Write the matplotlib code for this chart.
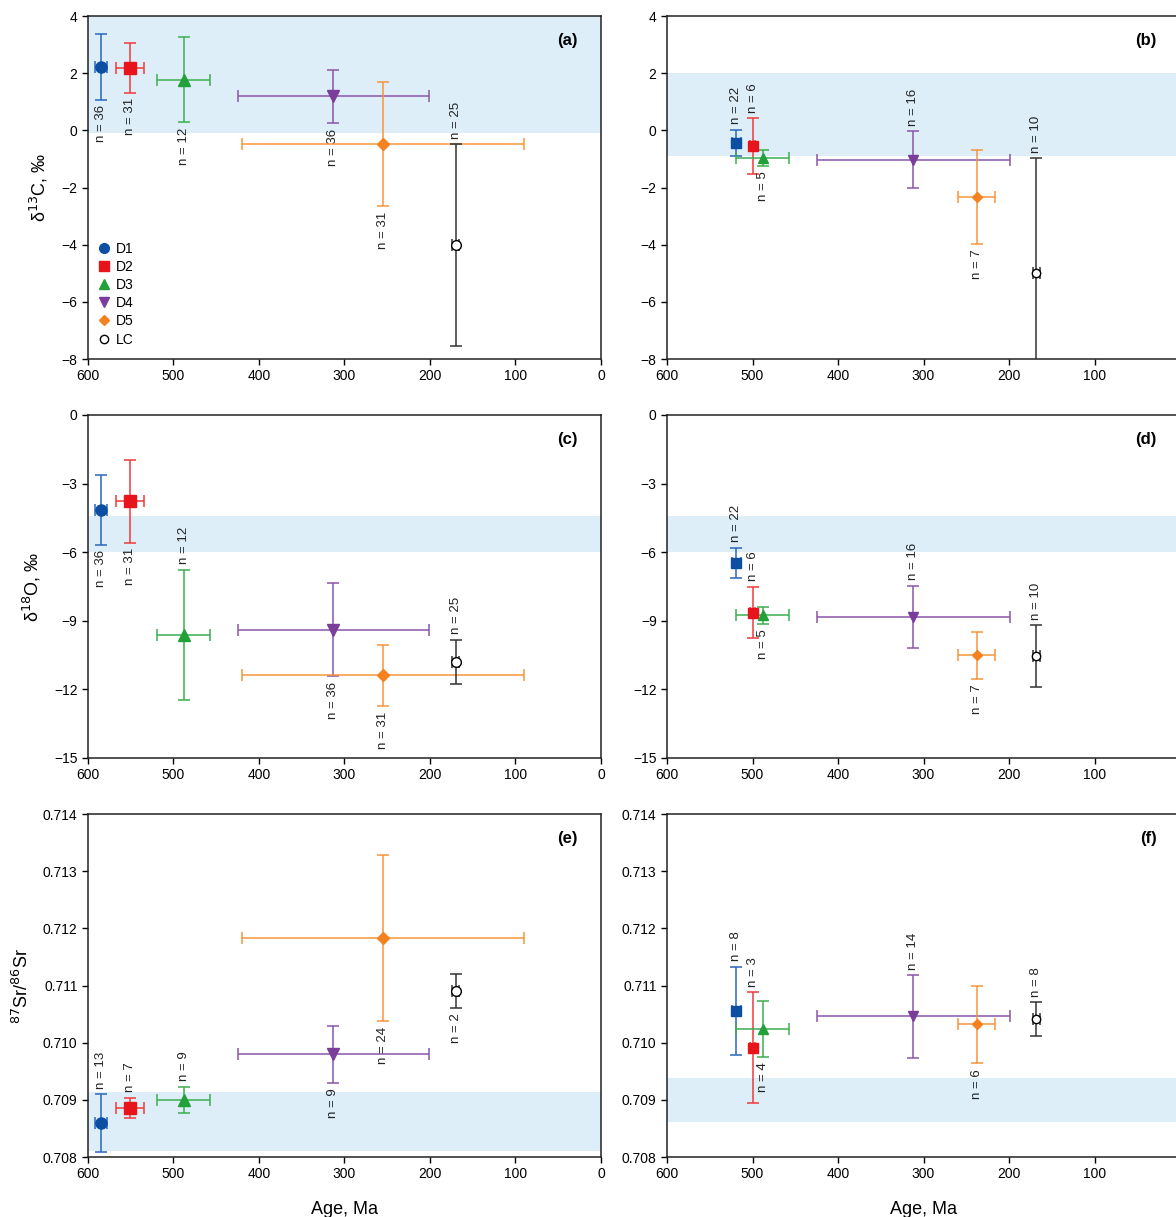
import matplotlib
matplotlib.use("Agg")
import matplotlib.pyplot as plt
from matplotlib.lines import Line2D

groups = ["D1", "D2", "D3", "D4", "D5", "LC"]

# ages (Ma) and age ranges, left column / right column
age_left = [585, 551, 488, 313, 255, 170]
age_left_err = [7, 16, 31, 112, 165, 4]
age_right = [519, 500, 488, 312, 238, 168]
age_right_err = [5, 3, 31, 113, 21.5, 4]

# delta 13C
c13_left = [2.22, 2.19, 1.78, 1.19, -0.47, -4.01]
c13_left_err = [1.15, 0.87, 1.49, 0.93, 2.18, 3.53]
c13_left_n = [36, 31, 12, 36, 31, 25]
c13_right = [-0.44, -0.54, -0.97, -1.03, -2.33, -5.0]
c13_right_err = [0.47, 0.97, 0.27, 1.0, 1.65, 4.02]
c13_right_n = [22, 6, 5, 16, 7, 10]

# delta 18O
o18_left = [-4.15, -3.78, -9.62, -9.39, -11.38, -10.8]
o18_left_err = [1.52, 1.8, 2.86, 2.03, 1.34, 0.98]
o18_left_n = [36, 31, 12, 36, 31, 25]
o18_right = [-6.46, -8.64, -8.76, -8.83, -10.5, -10.55]
o18_right_err = [0.66, 1.12, 0.37, 1.36, 1.03, 1.35]
o18_right_n = [22, 6, 5, 16, 7, 10]

# 87Sr/86Sr
sr_left = [0.70859, 0.70886, 0.70900, 0.70980, 0.71183, 0.71091]
sr_left_err = [0.00051, 0.00018, 0.00023, 0.00050, 0.00145, 0.00030]
sr_left_n = [13, 7, 9, 9, 24, 2]
sr_right = [0.71056, 0.70991, 0.71024, 0.71046, 0.71032, 0.71041]
sr_right_err = [0.00077, 0.00097, 0.00049, 0.00072, 0.00068, 0.00030]
sr_right_n = [8, 3, 4, 14, 6, 8]

# seawater reference bands
band_c13 = [(-0.1, 4.0), (-0.9, 2.0)]
band_o18 = [(-6.0, -4.4), (-6.0, -4.4)]
band_sr = [(0.7081, 0.70914), (0.70862, 0.70938)]

colors = ["#0b4ea2", "#e8141c", "#22a03a", "#7a3d9c", "#f5821f", "black"]
bar_colors = ["#2a66bb", "#ee3b3b", "#3cae50", "#8a55aa", "#f7943a", "#333333"]
markers = ["o", "s", "^", "v", "D", "o"]
sizes = [8, 8, 8, 8, 6, 7]

plt.rcParams["font.family"] = ["Liberation Sans", "DejaVu Sans"]


def draw_panel(ax, ages, age_err, vals, errs, ns, sides, band, letter, right=False):
    ax.axhspan(band[0], band[1], color="#ddeef9", zorder=0, lw=0)
    for i in range(len(groups)):
        mk = markers[i]
        if right and i == 0:
            mk = "s"
        mfc = "white" if groups[i] == "LC" else colors[i]
        ax.errorbar(ages[i], vals[i], xerr=age_err[i], yerr=errs[i],
                    fmt=mk, color=colors[i], ecolor=bar_colors[i],
                    mfc=mfc, mec=colors[i], ms=sizes[i] - (1 if right else 0),
                    elinewidth=1.1, capsize=4, capthick=1.1, zorder=3)
        txt = "n = %d" % ns[i]
        if sides[i] == "up":
            ax.annotate(txt, (ages[i], vals[i] + errs[i]), xytext=(0, 4),
                        textcoords="offset points", rotation=90,
                        ha="center", va="bottom", fontsize=9.5, color="#222222")
        else:
            ax.annotate(txt, (ages[i], vals[i] - errs[i]), xytext=(0, -4),
                        textcoords="offset points", rotation=90,
                        ha="center", va="top", fontsize=9.5, color="#222222")
    ax.set_xlim(600, 0)
    ax.set_xticks([600, 500, 400, 300, 200, 100, 0])
    ax.tick_params(direction="out", labelsize=10, length=4, width=1)
    ax.tick_params(top=False, right=False)
    for s in ax.spines.values():
        s.set_linewidth(1.1)
        s.set_color("#222222")
    ax.text(0.955, 0.93, letter, transform=ax.transAxes, ha="right",
            va="center", fontsize=12, fontweight="bold")


fig = plt.figure(figsize=(11.76, 12.17), dpi=100)
lx, rx, w, h = 0.0748, 0.5672, 0.4362, 0.2818
rows = [0.705, 0.3772, 0.0493]

ax_a = fig.add_axes([lx, rows[0], w, h])
ax_b = fig.add_axes([rx, rows[0], w, h])
ax_c = fig.add_axes([lx, rows[1], w, h])
ax_d = fig.add_axes([rx, rows[1], w, h])
ax_e = fig.add_axes([lx, rows[2], w, h])
ax_f = fig.add_axes([rx, rows[2], w, h])

draw_panel(ax_a, age_left, age_left_err, c13_left, c13_left_err, c13_left_n,
           ["dn", "dn", "dn", "dn", "dn", "up"], band_c13[0], "(a)")
draw_panel(ax_b, age_right, age_right_err, c13_right, c13_right_err, c13_right_n,
           ["up", "up", "dn", "up", "dn", "up"], band_c13[1], "(b)", right=True)
draw_panel(ax_c, age_left, age_left_err, o18_left, o18_left_err, o18_left_n,
           ["dn", "dn", "up", "dn", "dn", "up"], band_o18[0], "(c)")
draw_panel(ax_d, age_right, age_right_err, o18_right, o18_right_err, o18_right_n,
           ["up", "up", "dn", "up", "dn", "up"], band_o18[1], "(d)", right=True)
draw_panel(ax_e, age_left, age_left_err, sr_left, sr_left_err, sr_left_n,
           ["up", "up", "up", "dn", "dn", "dn"], band_sr[0], "(e)")
draw_panel(ax_f, age_right, age_right_err, sr_right, sr_right_err, sr_right_n,
           ["up", "up", "dn", "up", "dn", "up"], band_sr[1], "(f)", right=True)

for ax in [ax_a, ax_b]:
    ax.set_ylim(-8, 4)
    ax.set_yticks([-8, -6, -4, -2, 0, 2, 4])
for ax in [ax_c, ax_d]:
    ax.set_ylim(-15, 0)
    ax.set_yticks([-15, -12, -9, -6, -3, 0])
for ax in [ax_e, ax_f]:
    ax.set_ylim(0.708, 0.714)
    ax.set_yticks([0.708, 0.709, 0.710, 0.711, 0.712, 0.713, 0.714])
    ax.set_yticklabels(["%.3f" % v for v in ax.get_yticks()])
    ax.set_xlabel("Age, Ma", fontsize=13, labelpad=14)

ax_a.set_ylabel("δ$^{13}$C, ‰", fontsize=13, labelpad=8)
ax_c.set_ylabel("δ$^{18}$O, ‰", fontsize=13, labelpad=8)
ax_e.set_ylabel("$^{87}$Sr/$^{86}$Sr", fontsize=13, labelpad=8)

handles = []
for i, g in enumerate(groups):
    mfc = "white" if g == "LC" else colors[i]
    handles.append(Line2D([], [], ls="none", marker=markers[i], color=colors[i],
                          mfc=mfc, mec=colors[i], ms=sizes[i] - 1, label=g))
ax_a.legend(handles=handles, loc="lower left", bbox_to_anchor=(-0.01, 0.0),
            frameon=False, fontsize=10, handletextpad=0.3, labelspacing=0.3,
            handlelength=1.2)

plt.savefig("out.png", dpi=100)
